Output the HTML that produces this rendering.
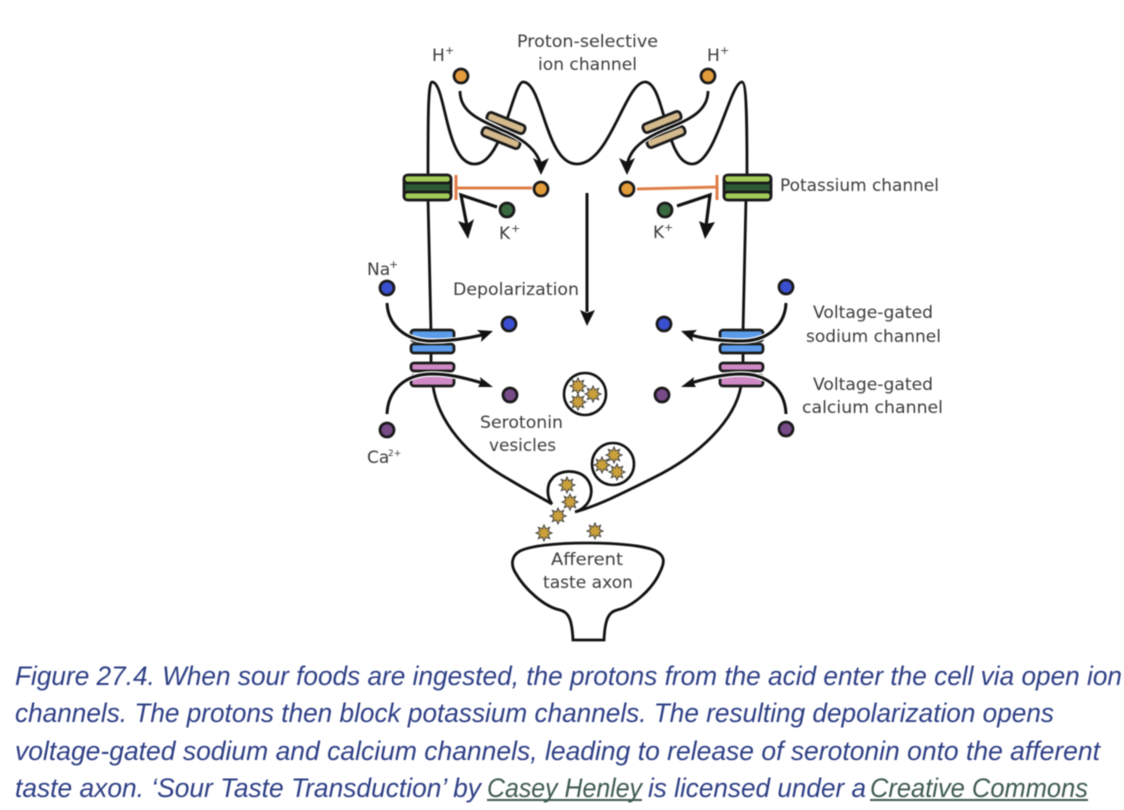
<!DOCTYPE html>
<html>
<head>
<meta charset="utf-8">
<style>
html,body{margin:0;padding:0;background:#fff;width:1124px;height:810px;overflow:hidden}
svg{display:block;filter:blur(0.45px)}
.l{font-family:"DejaVu Sans","Liberation Sans",sans-serif;font-size:17px;fill:#3c3c3c}
.s{font-family:"DejaVu Sans","Liberation Sans",sans-serif;font-size:11px;fill:#3c3c3c}
.c{font-family:"Liberation Sans",sans-serif;font-style:italic;font-size:27px;fill:#2e3f85}
.a{fill:#3f5a52}
.m{fill:none;stroke:#111;stroke-width:2.8;stroke-linecap:round}
.ar{fill:none;stroke:#111;stroke-width:3;stroke-linecap:butt}
.h{fill:none;stroke:#fff;stroke-width:5.5}
.k{fill:none;stroke:#111;stroke-width:3.2}
.b{stroke:#1a1a1a;stroke-width:2.8}
</style>
</head>
<body>
<svg width="1124" height="810" viewBox="0 0 1124 810" xmlns="http://www.w3.org/2000/svg">
<defs>
<polygon id="st" points="8,0 4.16,1.72 5.66,5.66 1.72,4.16 0,8 -1.72,4.16 -5.66,5.66 -4.16,1.72 -8,0 -4.16,-1.72 -5.66,-5.66 -1.72,-4.16 0,-8 1.72,-4.16 5.66,-5.66 4.16,-1.72" fill="#c9a03a" stroke="#444" stroke-width="1"/>
</defs>

<!-- membrane -->
<path class="m" d="M428 176C428 120 428 82 432 82C446 82 445 165 475 164C503 164 513 82 523 82C543 82 545 164 577 164C610 164 625 82 645 82C665 82 665 164 692 164C716 164 730 82 742 82C747 82 747 130 747 176"/>
<path class="m" d="M428 198L431 332M431 350V366"/>
<path class="m" d="M746 198L743 332M743 350V366"/>
<path class="m" d="M433 386C438 420 465 455 510 480C525 489 540 497 552 504C546 496 547 484 552 479C558 470 578 468 587 479C594 488 592 500 584 507C581 510 578 511 575 512C600 505 625 492 653 478C700 455 735 420 741 386"/>

<!-- proton channels -->
<g fill="#d3b98c" stroke="#1a1a1a" stroke-width="2.8">
<rect x="-20" y="-4.5" width="40" height="9" rx="3.5" transform="translate(506 123) rotate(22)"/>
<rect x="-20" y="-4.5" width="40" height="9" rx="3.5" transform="translate(501 138) rotate(22)"/>
<rect x="-20" y="-4.5" width="40" height="9" rx="3.5" transform="translate(662 122) rotate(-22)"/>
<rect x="-20" y="-4.5" width="40" height="9" rx="3.5" transform="translate(666 137) rotate(-22)"/>
</g>
<path class="h" style="stroke-width:5" d="M482 120C490 124 497 127 503 130.500C524 139 537 150 541 165"/>
<path class="h" style="stroke-width:5" d="M686 120C680 124 672 127 664 130C645 138 630 148 627 165"/>
<path class="ar" style="stroke-width:2.8" d="M460 91C460 112 478 119 503 130.500C524 139 537 150 541 165"/>
<path class="ar" style="stroke-width:2.8" d="M708 91C708 112 688 120 664 130C645 138 630 148 627 165"/>
<polygon points="541,175 533,158 541,162 549,158" fill="#111"/>
<polygon points="627,175 619,158 627,162 635,158" fill="#111"/>

<!-- potassium channels -->
<g>
<rect x="404" y="175" width="47" height="25" rx="5" fill="#2d5a33" stroke="#1a1a1a" stroke-width="2.8"/>
<rect x="404" y="175" width="47" height="8" rx="3.5" fill="#a2cc57" stroke="#1a1a1a" stroke-width="2.8"/>
<rect x="404" y="192" width="47" height="8" rx="3.5" fill="#a2cc57" stroke="#1a1a1a" stroke-width="2.8"/>
<rect x="724" y="175" width="47" height="25" rx="5" fill="#2d5a33" stroke="#1a1a1a" stroke-width="2.8"/>
<rect x="724" y="175" width="47" height="8" rx="3.5" fill="#a2cc57" stroke="#1a1a1a" stroke-width="2.8"/>
<rect x="724" y="192" width="47" height="8" rx="3.5" fill="#a2cc57" stroke="#1a1a1a" stroke-width="2.8"/>
</g>

<!-- block lines -->
<g stroke="#e07f4b" stroke-width="3" fill="none">
<path d="M456 188H532M456 175V200"/>
<path d="M637 189L717 187M717 175V200"/>
</g>

<!-- K arrows -->
<path class="k" d="M497 207L461 195L467 226"/>
<polygon points="468,239 458,221 467,224 474,219" fill="#111"/>
<path class="k" d="M677 206L710 195L706 226"/>
<polygon points="705,239 699,221 706,224 715,222" fill="#111"/>

<!-- depolarization arrow -->
<path class="ar" d="M587 193V312"/>
<polygon points="587,326 580,310 587,313 595,310" fill="#111"/>

<!-- Na / Ca channels -->
<g stroke="#1a1a1a" stroke-width="2.8">
<rect x="411" y="330" width="43" height="11" rx="3" fill="#5b9bea"/>
<rect x="411" y="344" width="43" height="9" rx="3" fill="#5b9bea"/>
<rect x="411" y="363" width="43" height="8" rx="3" fill="#cf8ac6"/>
<rect x="411" y="375" width="43" height="11" rx="3" fill="#cf8ac6"/>
<rect x="720" y="330" width="43" height="11" rx="3" fill="#5b9bea"/>
<rect x="720" y="344" width="43" height="9" rx="3" fill="#5b9bea"/>
<rect x="720" y="363" width="43" height="8" rx="3" fill="#cf8ac6"/>
<rect x="720" y="375" width="43" height="11" rx="3" fill="#cf8ac6"/>
</g>
<path class="h" d="M387 303C388 325 405 341 432 341C450 341 465 339 482 335"/>
<path class="h" d="M387 414C388 390 405 374 432 374C450 374 465 378 482 383"/>
<path class="h" d="M786 303C785 325 768 341 742 341C724 341 705 339 691 335"/>
<path class="h" d="M786 414C785 390 768 374 742 374C724 374 708 378 691 383"/>
<path class="ar" d="M387 303C388 325 405 341 432 341C450 341 465 339 482 335"/>
<path class="ar" d="M387 414C388 390 405 374 432 374C450 374 465 378 482 383"/>
<path class="ar" d="M786 303C785 325 768 341 742 341C724 341 705 339 691 335"/>
<path class="ar" d="M786 414C785 390 768 374 742 374C724 374 708 378 691 383"/>
<polygon points="493,331 477,330 482,335 481,342" fill="#111"/>
<polygon points="493,387 480,377 481,382 478,387" fill="#111"/>
<polygon points="681,331 697,330 692,335 693,342" fill="#111"/>
<polygon points="681,387 694,377 693,382 696,387" fill="#111"/>

<!-- ions -->
<g class="b">
<circle cx="461" cy="76" r="7" fill="#e39c3c"/>
<circle cx="708" cy="76" r="7" fill="#e39c3c"/>
<circle cx="541" cy="189" r="7" fill="#e39c3c"/>
<circle cx="627" cy="189" r="7" fill="#e39c3c"/>
<circle cx="507" cy="210" r="7" fill="#39693f"/>
<circle cx="665" cy="210" r="7" fill="#39693f"/>
<circle cx="387" cy="288" r="7" fill="#3a4fd0"/>
<circle cx="786" cy="287" r="7" fill="#3a4fd0"/>
<circle cx="509" cy="324" r="7" fill="#3a4fd0"/>
<circle cx="664" cy="324" r="7" fill="#3a4fd0"/>
<circle cx="510" cy="395" r="7" fill="#774a88"/>
<circle cx="662" cy="395" r="7" fill="#774a88"/>
<circle cx="387" cy="430" r="7" fill="#774a88"/>
<circle cx="786" cy="429" r="7" fill="#774a88"/>
</g>

<!-- vesicles -->
<circle cx="585" cy="394" r="21" fill="#fff" stroke="#111" stroke-width="2.6"/>
<circle cx="613" cy="464" r="21" fill="#fff" stroke="#111" stroke-width="2.6"/>
<use href="#st" x="578" y="386"/>
<use href="#st" x="593" y="394"/>
<use href="#st" x="578" y="402"/>
<use href="#st" x="614" y="455"/>
<use href="#st" x="602" y="465"/>
<use href="#st" x="617" y="472"/>
<use href="#st" x="567" y="485"/>
<use href="#st" x="570" y="502"/>
<use href="#st" x="558" y="516"/>
<use href="#st" x="544" y="533"/>
<use href="#st" x="595" y="531"/>

<!-- axon -->
<path class="m" d="M587 543C555 543 530 546 520 551C511 556 511 565 515 572C525 590 545 607 560 610C568 612 572 618 573 640H604C605 618 609 612 617 610C632 607 652 590 660 572C665 562 665 556 656 551C646 546 620 543 587 543Z"/>

<!-- labels -->
<text class="l" x="517" y="47" textLength="141" lengthAdjust="spacingAndGlyphs">Proton-selective</text>
<text class="l" x="538" y="70" textLength="99" lengthAdjust="spacingAndGlyphs">ion channel</text>
<text class="l" x="432" y="61">H</text><text class="s" x="445" y="54">+</text>
<text class="l" x="707" y="61">H</text><text class="s" x="720" y="54">+</text>
<text class="l" x="499" y="239">K</text><text class="s" x="511" y="232">+</text>
<text class="l" x="653" y="238">K</text><text class="s" x="664" y="231">+</text>
<text class="l" x="780" y="191" textLength="159" lengthAdjust="spacingAndGlyphs">Potassium channel</text>
<text class="l" x="367" y="275">Na</text><text class="s" x="389" y="268">+</text>
<text class="l" x="453" y="295" textLength="126" lengthAdjust="spacingAndGlyphs">Depolarization</text>
<text class="l" x="813" y="318" textLength="120" lengthAdjust="spacingAndGlyphs">Voltage-gated</text>
<text class="l" x="806" y="342" textLength="135" lengthAdjust="spacingAndGlyphs">sodium channel</text>
<text class="l" x="813" y="390" textLength="120" lengthAdjust="spacingAndGlyphs">Voltage-gated</text>
<text class="l" x="802" y="413" textLength="141" lengthAdjust="spacingAndGlyphs">calcium channel</text>
<text class="l" x="480" y="428" textLength="83" lengthAdjust="spacingAndGlyphs">Serotonin</text>
<text class="l" x="489" y="451" textLength="67" lengthAdjust="spacingAndGlyphs">vesicles</text>
<text class="l" x="367" y="463">Ca</text><text class="s" x="388" y="456" style="font-size:9px">2+</text>
<text class="l" x="551" y="565" textLength="72" lengthAdjust="spacingAndGlyphs">Afferent</text>
<text class="l" x="543" y="588" textLength="90" lengthAdjust="spacingAndGlyphs">taste axon</text>

<!-- caption -->
<text class="c" x="15" y="685" textLength="1107" lengthAdjust="spacingAndGlyphs">Figure 27.4. When sour foods are ingested, the protons from the acid enter the cell via open ion</text>
<text class="c" x="15" y="722" textLength="1039" lengthAdjust="spacingAndGlyphs">channels. The protons then block potassium channels. The resulting depolarization opens</text>
<text class="c" x="15" y="760" textLength="1085" lengthAdjust="spacingAndGlyphs">voltage-gated sodium and calcium channels, leading to release of serotonin onto the afferent</text>
<text class="c" x="15" y="797" textLength="466" lengthAdjust="spacingAndGlyphs">taste axon. ‘Sour Taste Transduction’ by</text>
<text class="c a" x="487" y="797" textLength="155" lengthAdjust="spacingAndGlyphs">Casey Henley</text>
<text class="c" x="648" y="797" textLength="218" lengthAdjust="spacingAndGlyphs">is licensed under a</text>
<text class="c a" x="870" y="797" textLength="218" lengthAdjust="spacingAndGlyphs">Creative Commons</text>
<rect x="487" y="799" width="155" height="2" fill="#3f5a52"/>
<rect x="870" y="799" width="218" height="2" fill="#3f5a52"/>
</svg>
</body>
</html>
